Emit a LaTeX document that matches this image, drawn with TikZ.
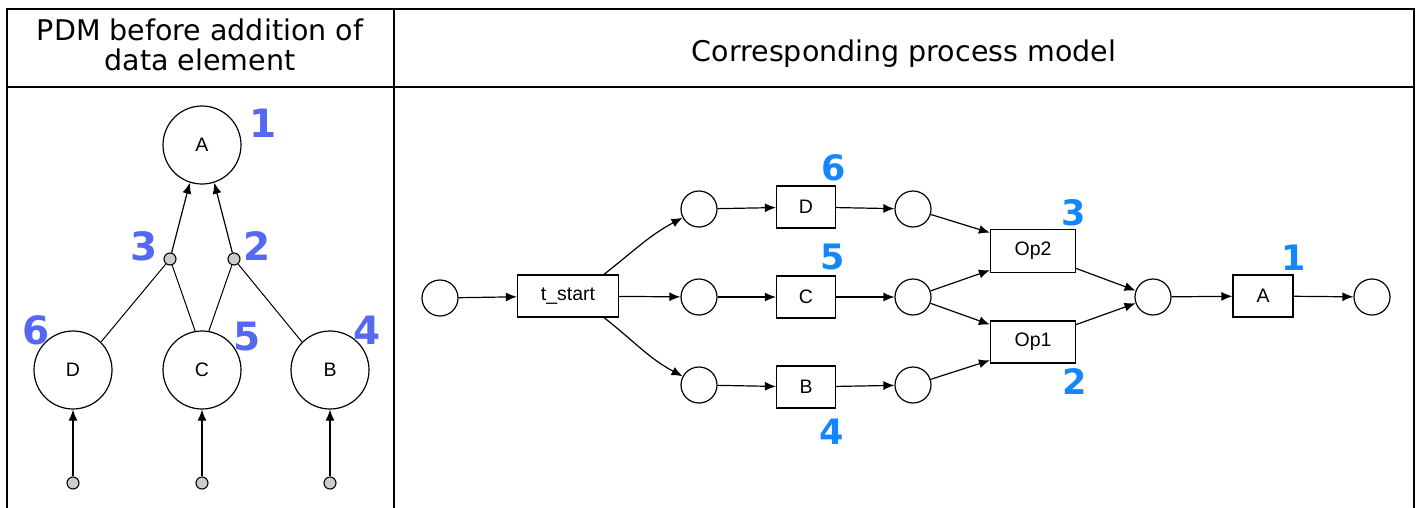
\documentclass[tikz,border=0pt]{standalone}
\usepackage{fontspec}
\setmainfont{DejaVu Sans}
\newfontfamily\nodefont{Liberation Sans}
\usetikzlibrary{arrows.meta}
\definecolor{numblueL}{RGB}{85,105,240}
\definecolor{numblueR}{RGB}{20,135,255}
\begin{document}
\begin{tikzpicture}[x=1pt,y=1pt,
 place/.style={circle,draw,line width=1.2pt,minimum size=36pt,inner sep=0pt},
 trans/.style={rectangle,draw,line width=1.2pt,minimum width=59pt,minimum height=42pt,inner sep=0pt,font=\nodefont\fontsize{19.5}{19.5}\selectfont},
 pdm/.style={circle,draw,line width=1.2pt,minimum size=78pt,inner sep=0pt,font=\nodefont\fontsize{19.5}{19.5}\selectfont},
 dot/.style={circle,draw,fill=gray!40,line width=1.1pt,minimum size=12pt,inner sep=0pt},
 arr/.style={line width=1.2pt,-{Latex[length=11pt,width=9pt]}},
 ln/.style={line width=1pt},
 numL/.style={text=numblueL,font=\bfseries\fontsize{39}{39}\selectfont,inner sep=0pt},
 numR/.style={text=numblueR,font=\bfseries\fontsize{35}{35}\selectfont,inner sep=0pt},
 hdr/.style={font=\fontsize{28.5}{30}\selectfont,anchor=base,inner sep=0pt},
 frame/.style={line width=2.6pt}
]
\useasboundingbox (0,0) rectangle (1419,-507);
% table
\draw[frame] (7,-9) rectangle (1414,-512);
\draw[frame] (7,-87) -- (1414,-87);
\draw[frame] (394,-9) -- (394,-512);
\node[hdr] (h1) at (200,-40) {PDM before addition of};
\node[hdr] (h2) at (200,-70) {data element};
\node[hdr] (h3) at (904,-61) {Corresponding process model};

% ---------- left: PDM ----------
\node[pdm] (A) at (202,-145) {A};
\node[dot] (s3) at (170,-259) {};
\node[dot] (s2) at (234,-259) {};
\node[pdm] (D) at (73,-370) {D};
\node[pdm] (C) at (202,-370) {C};
\node[pdm] (B) at (330,-370) {B};
\node[dot] (bD) at (73,-483) {};
\node[dot] (bC) at (202,-483) {};
\node[dot] (bB) at (330,-483) {};
\draw[arr] (s3) -- (A.252);
\draw[arr] (s2) -- (A.288);
\draw[ln] (D.45) -- (s3);
\draw[ln] (C.100) -- (s3);
\draw[ln] (C.80) -- (s2);
\draw[ln] (B.135) -- (s2);
\draw[arr] (bD) -- (D);
\draw[arr] (bC) -- (C);
\draw[arr] (bB) -- (B);
\node[numL] (nL1) at (263,-123) {1};
\node[numL] (nL3) at (144,-246) {3};
\node[numL] (nL2) at (257,-246) {2};
\node[numL] (nL6) at (36,-330) {6};
\node[numL] (nL5) at (247,-337) {5};
\node[numL] (nL4) at (367,-330) {4};

% ---------- right: process model ----------
\node[place] (p0) at (440,-298) {};
\node[trans,minimum width=101pt] (ts) at (568,-296) {t\_start};
\node[place] (p1) at (699,-209) {};
\node[place] (p2) at (699,-297) {};
\node[place] (p3) at (699,-385) {};
\node[trans] (tD) at (806,-207) {D};
\node[trans] (tC) at (806,-297) {C};
\node[trans] (tB) at (806,-387) {B};
\node[place] (q1) at (913,-209) {};
\node[place] (q2) at (913,-297) {};
\node[place] (q3) at (913,-385) {};
\node[trans,minimum width=85pt,minimum height=43pt] (Op2) at (1033,-251) {Op2};
\node[trans,minimum width=85pt,minimum height=42pt] (Op1) at (1033,-342) {Op1};
\node[place] (q4) at (1153,-297) {};
\node[trans,minimum width=60pt] (tA) at (1263,-296) {A};
\node[place] (p5) at (1372,-297) {};

\draw[arr] (p0) -- (ts);
\draw[arr] (ts.31) to[out=38,in=208] (p1);
\draw[arr] (ts) -- (p2);
\draw[arr] (ts.-31) to[out=-38,in=152] (p3);
\draw[arr] (p1) -- (tD);
\draw[arr] (p2) -- (tC);
\draw[arr] (p3) -- (tB);
\draw[arr] (tD) -- (q1);
\draw[arr] (tC) -- (q2);
\draw[arr] (tB) -- (q3);
\draw[arr] (q1) -- (Op2.157);
\draw[arr] (q2) -- (Op2.204);
\draw[arr] (q2) -- (Op1.158);
\draw[arr] (q3) -- (Op1.203);
\draw[arr] (Op2.338) -- (q4);
\draw[arr] (Op1.22) -- (q4);
\draw[arr] (q4) -- (tA);
\draw[arr] (tA) -- (p5);

\node[numR] (nR6) at (834,-168) {6};
\node[numR] (nR5) at (833,-257) {5};
\node[numR] (nR4) at (832,-432) {4};
\node[numR] (nR3) at (1074,-213) {3};
\node[numR] (nR2) at (1075,-382) {2};
\node[numR] (nR1) at (1294,-258) {1};
\end{tikzpicture}
\end{document}
